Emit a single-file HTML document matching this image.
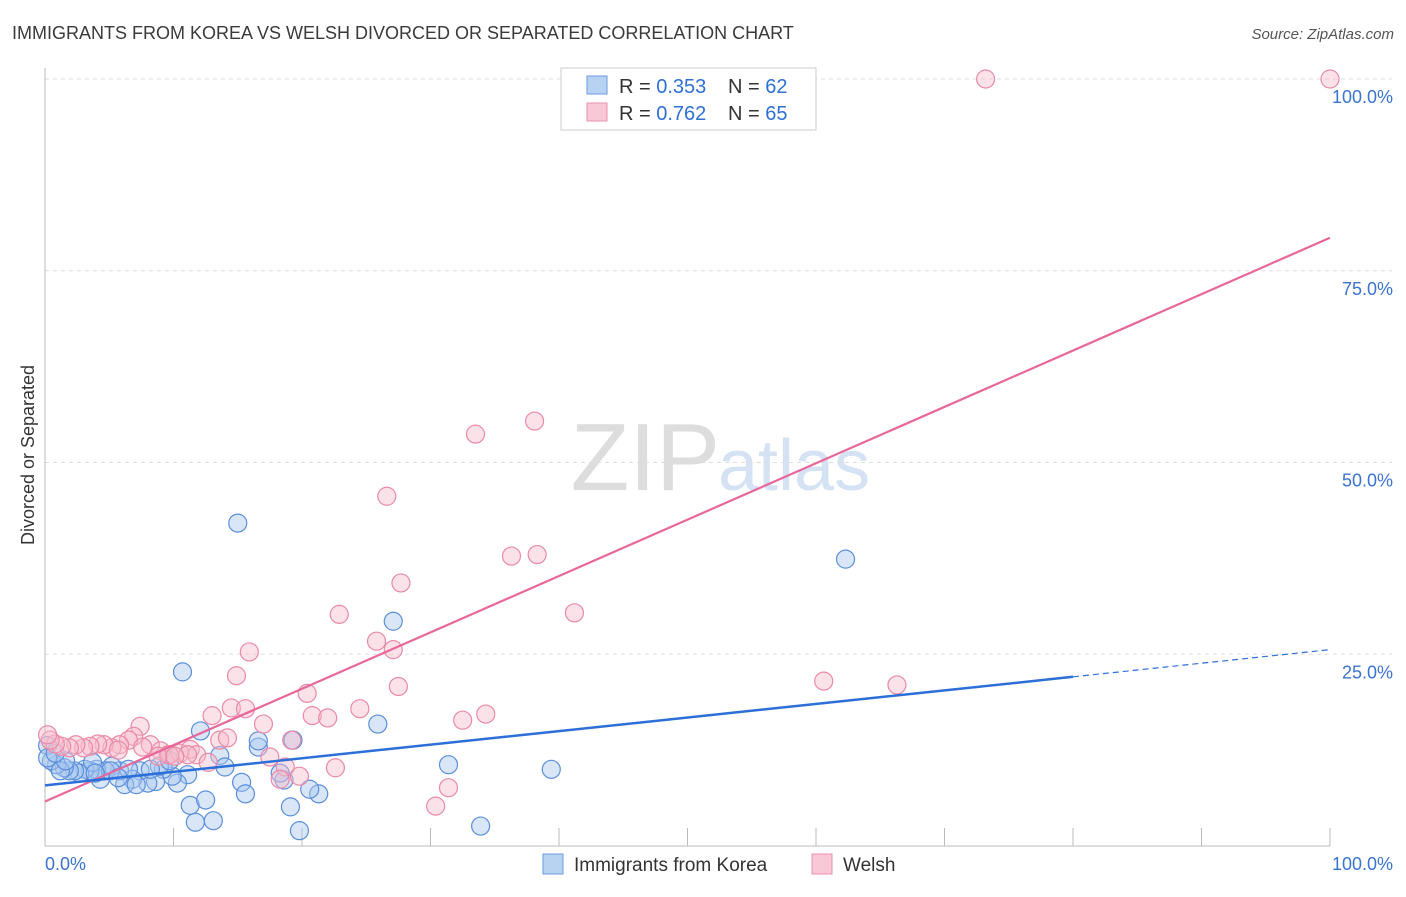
<!DOCTYPE html>
<html><head><meta charset="utf-8"><style>
body{margin:0;background:#fff;font-family:"Liberation Sans",sans-serif}
svg text{font-family:"Liberation Sans",sans-serif}
</style></head><body>
<svg id="c" width="1406" height="892" xmlns="http://www.w3.org/2000/svg">
<text x="12" y="39" font-size="18" fill="#3a3a3a">IMMIGRANTS FROM KOREA VS WELSH DIVORCED OR SEPARATED CORRELATION CHART</text>
<text x="1394" y="39" font-size="15" fill="#555" font-style="italic" text-anchor="end">Source: ZipAtlas.com</text>
<text x="720" y="490" font-size="96" fill="#ddd" text-anchor="end" font-family="Liberation Serif">ZIP</text>
<text x="718" y="490" font-size="72" fill="#d4e2f4">atlas</text>
<g id="grid"></g>
<line x1="45" y1="68" x2="45" y2="846" stroke="#bbb"/>
<line x1="45" y1="846" x2="1330" y2="846" stroke="#bbb"/>
<text x="34" y="455" font-size="18" fill="#333" transform="rotate(-90 34 455)" text-anchor="middle">Divorced or Separated</text>
<text x="45" y="870" font-size="18" fill="#3b73d0">0.0%</text>
<text x="1393" y="870" font-size="18" fill="#3b73d0" text-anchor="end">100.0%</text>
<g id="pts"></g>
<g id="lines"></g>
<rect x="561" y="68" width="255" height="62" fill="#fff" stroke="#ccc"/>
<rect x="587" y="76" width="20" height="18" fill="#b8d2f2" stroke="#6a9be0"/>
<rect x="587" y="103" width="20" height="18" fill="#f8c8d6" stroke="#e890ac"/>
<text x="619" y="93" font-size="20" fill="#333">R = <tspan fill="#2f6fd6">0.353</tspan></text>
<text x="728" y="93" font-size="20" fill="#333">N = <tspan fill="#2f6fd6">62</tspan></text>
<text x="619" y="120" font-size="20" fill="#333">R = <tspan fill="#2f6fd6">0.762</tspan></text>
<text x="728" y="120" font-size="20" fill="#333">N = <tspan fill="#2f6fd6">65</tspan></text>
<rect x="543" y="854" width="20" height="20" fill="#b8d2f2" stroke="#6a9be0"/>
<text x="574" y="871" font-size="19" fill="#333">Immigrants from Korea</text>
<rect x="812" y="854" width="20" height="20" fill="#f8c8d6" stroke="#e890ac"/>
<text x="843" y="871" font-size="19" fill="#333">Welsh</text>
</svg>
<script>
const yTicks=[25,50,75,100];
const xTicks=[10,20,30,40,50,60,70,80,90,100];
const koreaX=[15,10.7,27.1,25.9,62.3,39.4,31.4,33.9,19.8,13.1,11.7,11.3,12.5,15.3,15.6,18.6,19.1,21.3,20.6,18.3,19.3,16.6,16.6,13.6,14,12.1,11.1,10.3,9.9,9.2,8.6,8,7.4,6.8,6.2,5.8,5.2,4.7,4.3,4,3.5,3.1,2.7,2.3,1.9,1.5,0.9,0.5,0.2,0.2,1.2,3.7,5.1,6.5,8.9,9.7,8.2,5.7,7.1,3.9,1.6,0.8];
const koreaY=[42.1,22.7,29.3,15.9,37.4,10,10.6,2.6,2,3.3,3.1,5.3,6,8.3,6.8,8.6,5.1,6.8,7.4,9.5,13.8,12.9,13.7,11.8,10.3,15,9.3,8.2,9.1,10,8.4,8.2,9.8,8.7,8,9.8,10.4,9.8,8.7,10,9.8,10,9.5,9.8,9.8,10.2,10.6,11.1,13.1,11.5,9.8,10.9,9.8,10,10.4,11.1,10,8.9,8,9.5,11.1,12.1];
const welshX=[73.2,100,33.5,38.1,26.6,36.3,38.3,27.7,41.2,22.9,25.8,27.1,15.9,27.5,14.9,20.4,14.5,15.6,13,20.8,22,24.5,32.5,34.3,60.6,66.3,17,19.2,7.4,6.9,6.5,5.8,5.2,4.6,4.1,3.5,3,2.4,1.9,1.3,0.8,0.4,0.2,8.2,9,9.6,10.5,11.3,11.8,12.7,13.6,14.2,9.7,17.5,18.7,18.3,19.8,22.6,30.4,31.4,11.1,5.7,8.8,10.1,7.6];
const welshY=[100,100,53.7,55.4,45.6,37.8,38,34.3,30.4,30.2,26.7,25.6,25.3,20.8,22.2,19.9,18,17.9,17,17,16.7,17.9,16.4,17.2,21.5,21,15.9,13.8,15.6,14.3,13.8,13.2,12.8,13.2,13.3,13,12.8,13.2,12.8,13,13.3,13.8,14.5,13.2,12.4,11.9,12.1,12.6,11.9,10.9,13.8,14.1,11.9,11.6,10.3,8.7,9.1,10.2,5.2,7.6,11.9,12.5,11.7,11.7,12.9];
const koreaFit=[7.9,0.177];
const welshFit=[5.8,0.735];
const X0=45,X1=1330,Y0=846,Y100=79;
const sx=v=>X0+(X1-X0)*v/100, sy=v=>Y0-(Y0-Y100)*v/100;
const NS="http://www.w3.org/2000/svg";
function mk(t,a,p){const e=document.createElementNS(NS,t);for(const k in a)e.setAttribute(k,a[k]);p.appendChild(e);return e;}
const grid=document.getElementById('grid');
yTicks.forEach(v=>{
const l=mk('line',{x1:X0,x2:1392,y1:sy(v),y2:sy(v),stroke:'#ddd','stroke-dasharray':'4,4'},grid);


const t=mk('text',{x:1393,y:sy(v)+24,'font-size':18,fill:'#3b73d0','text-anchor':'end'},grid);
t.textContent=v.toFixed(1)+'%';


});
xTicks.forEach(v=>{
const l=mk('line',{x1:sx(v),x2:sx(v),y1:828,y2:846,stroke:'#bbb'},grid);


});
const pts=document.getElementById('pts');
function draw(xs,ys,f,s,nm){xs.forEach((x,i)=>{
const c=mk('circle',{cx:sx(x),cy:sy(ys[i]),r:9,fill:f,'fill-opacity':0.45,stroke:s,'stroke-width':1.2},pts);


});}
draw(koreaX,koreaY,'#a9c8ef','#5b8fdc','korea');
draw(welshX,welshY,'#f7bccd','#ea8aa8','welsh');
const L=document.getElementById('lines');
let e=mk('line',{x1:sx(0),y1:sy(welshFit[0]),x2:sx(100),y2:sy(welshFit[0]+welshFit[1]*100),stroke:'#e8679a','stroke-width':2.2},L);


e=mk('line',{x1:sx(0),y1:sy(koreaFit[0]),x2:sx(80),y2:sy(koreaFit[0]+koreaFit[1]*80),stroke:'#2c6fd8','stroke-width':2.5},L);


e=mk('line',{x1:sx(80),y1:sy(koreaFit[0]+koreaFit[1]*80),x2:sx(100),y2:sy(koreaFit[0]+koreaFit[1]*100),stroke:'#2c6fd8','stroke-width':1.2,'stroke-dasharray':'6,4'},L);


</script>
</body></html>
